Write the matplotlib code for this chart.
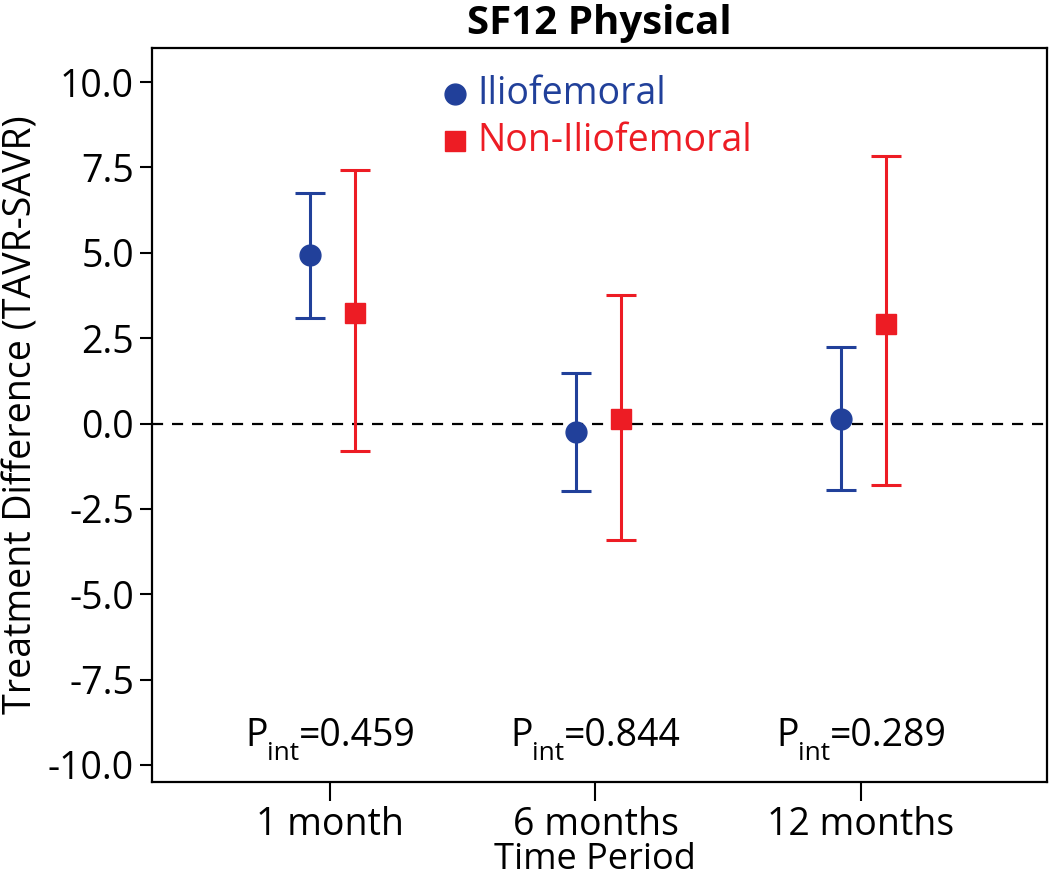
import matplotlib
matplotlib.use("Agg")
import matplotlib.pyplot as plt
from matplotlib import font_manager as fm
from matplotlib import transforms as mtrans
import numpy as np

names = {f.name for f in fm.fontManager.ttflist}
fam = 'Liberation Sans Narrow' if 'Liberation Sans Narrow' in names else 'Open Sans'
plt.rcParams['font.family'] = [fam, 'DejaVu Sans']

periods = ["1 month", "6 months", "12 months"]
ilio_est = [4.95, -0.25, 0.12]
ilio_lo = [3.1, -1.98, -1.95]
ilio_hi = [6.75, 1.47, 2.25]
non_est = [3.25, 0.12, 2.92]
non_lo = [-0.8, -3.42, -1.8]
non_hi = [7.43, 3.77, 7.85]
p_int = ["0.459", "0.844", "0.289"]

blue = "#21409A"
red = "#ED1C24"
FS = 27

fig = plt.figure(figsize=(10.5, 8.81), dpi=100)
ax = fig.add_axes([0.1448, 0.1124, 0.997 - 0.1448, 0.9455 - 0.1124])

x = np.arange(1, len(periods) + 1)
ie = np.array(ilio_est); ne = np.array(non_est)
ax.errorbar(x - 0.075, ie, yerr=[ie - np.array(ilio_lo), np.array(ilio_hi) - ie],
            fmt='o', color=blue, ms=15, elinewidth=2.2, capsize=11, capthick=2.2, zorder=3)
ax.errorbar(x + 0.095, ne, yerr=[ne - np.array(non_lo), np.array(non_hi) - ne],
            fmt='s', color=red, ms=14, elinewidth=2.2, capsize=11, capthick=2.2, zorder=3)
ax.axhline(0, color='black', ls=(0, (5, 4)), lw=1.6, zorder=1)

ax.set_xlim(0.33, 3.70)
ax.set_ylim(-10.5, 11.0)
ax.set_xticks(x)
ax.set_xticklabels(periods, fontsize=FS)
yt = np.arange(-10, 10.01, 2.5)
ax.set_yticks(yt)
ax.set_yticklabels([f"{v:.1f}" for v in yt], fontsize=FS)
ax.tick_params(axis='y', length=9, width=1.5, pad=4)
ax.tick_params(axis='x', length=14, width=1.5, pad=3)
for s in ax.spines.values():
    s.set_linewidth(1.6)
ax.set_xlabel("Time Period", fontsize=26)
ax.xaxis.set_label_coords(0.495, -0.106)
ax.xaxis.label.set_va('center')
ax.set_ylabel("Treatment Difference (TAVR-SAVR)", fontsize=FS, labelpad=5)
ax.set_title("SF12 Physical", fontsize=29, fontweight='bold', pad=10)

ax.plot([1.47], [9.65], 'o', color=blue, ms=15)
ax.text(1.555, 9.65, "Iliofemoral", color=blue, fontsize=FS, va='center')
ax.plot([1.47], [8.27], 's', color=red, ms=14)
ax.text(1.555, 8.27, "Non-Iliofemoral", color=red, fontsize=FS, va='center')

# P_int labels built from pieces: P, subscript "int", "=value"
renderer = fig.canvas.get_renderer()
ybase = -9.45
for xi, p in zip(x, p_int):
    pieces = [("P", FS, 0), ("int", 19, -14), ("=" + p, FS, 0)]
    widths = []
    for s, fs, dy in pieces:
        t = ax.text(0, 0, s, fontsize=fs)
        widths.append(t.get_window_extent(renderer).width)
        t.remove()
    total = sum(widths) - 2
    off = -total / 2.0
    for (s, fs, dy), w in zip(pieces, widths):
        tr = mtrans.offset_copy(ax.transData, fig=fig, x=off * 72 / fig.dpi, y=dy * 72 / fig.dpi, units='points')
        ax.text(xi, ybase, s, fontsize=fs, va='baseline', ha='left', transform=tr)
        off += w - (1 if s == "P" else 0)

fig.savefig("out.png", dpi=100)
